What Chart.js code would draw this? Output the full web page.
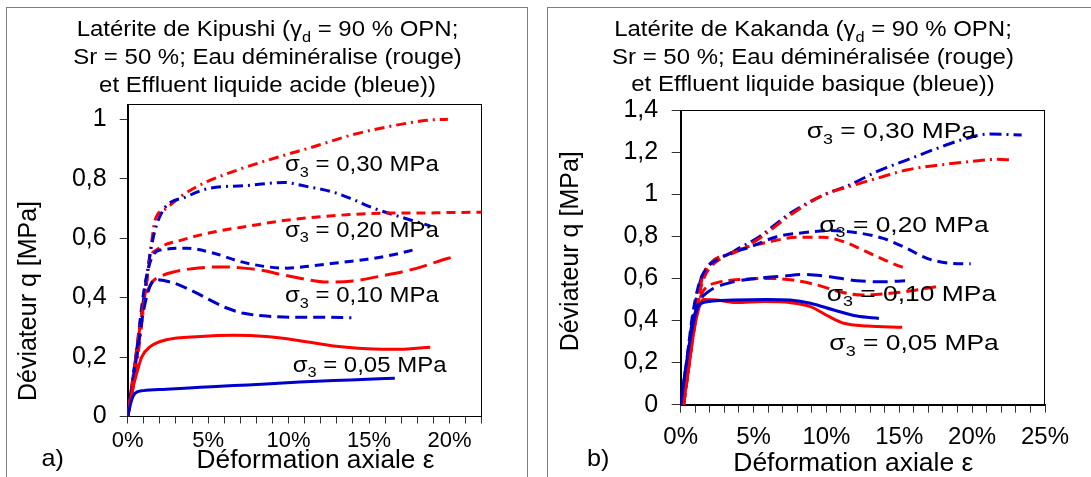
<!DOCTYPE html>
<html><head><meta charset="utf-8">
<script src="https://cdn.jsdelivr.net/npm/chart.js@4/dist/chart.umd.min.js"></script>
<style>
html,body{margin:0;padding:0;width:1091px;height:477px;overflow:hidden;background:#fff;}
.panel{position:absolute;border:1px solid #7f7f7f;box-sizing:border-box;}
canvas{position:absolute;left:0;top:0;}
</style></head><body>
<div class="panel" style="left:6px;top:7px;width:522px;height:500px;"></div>
<div class="panel" style="left:547px;top:7px;width:560px;height:500px;"></div>
<canvas id="cA" width="1091" height="477"></canvas>
<canvas id="cB" width="1091" height="477"></canvas>
<script>
// ---------- DATA (x = axial strain in %, y = deviator q in MPa) ----------
// Kipushi (a): red = eau déminéralisée, blue = effluent liquide acide
const kipRed030  = [[0,0],[0.5,0.15],[1.0,0.37],[1.5,0.59],[1.7,0.66],[2.4,0.70],[3.3,0.74],[4.2,0.77],[5.1,0.794],[7.2,0.836],[9.5,0.875],[11.6,0.908],[14.0,0.948],[16.5,0.978],[18.6,0.996],[19.9,1.0]];
const kipBlue030 = [[0,0],[0.5,0.2],[1.0,0.4],[1.5,0.58],[2.1,0.684],[3.7,0.74],[5.1,0.768],[7.2,0.776],[9.7,0.787],[11.1,0.774],[12.8,0.754],[14.0,0.73],[15.3,0.70],[16.9,0.672],[18.8,0.641]];
const kipRed020  = [[0,0],[0.5,0.17],[1.0,0.38],[1.4,0.53],[1.8,0.56],[3.4,0.594],[5.5,0.622],[7.6,0.641],[9.7,0.659],[11.8,0.671],[13.8,0.679],[15.9,0.684],[18.0,0.684],[20.0,0.686],[22.5,0.687]];
const kipBlue020 = [[0,0],[0.5,0.2],[1.0,0.42],[1.4,0.52],[2.0,0.56],[3.7,0.566],[5.3,0.55],[7.0,0.521],[8.6,0.504],[9.9,0.499],[11.5,0.507],[13.2,0.518],[14.9,0.529],[16.5,0.544],[17.8,0.561]];
const kipRed010  = [[0,0],[0.5,0.2],[1.0,0.38],[1.5,0.45],[2.0,0.47],[3.0,0.488],[4.0,0.497],[5.0,0.502],[6.0,0.503],[7.2,0.499],[8.5,0.49],[9.5,0.478],[10.7,0.465],[12.4,0.452],[14.0,0.456],[15.9,0.474],[18.0,0.499],[19.2,0.52],[20.3,0.538]];
const kipBlue010 = [[0,0],[0.5,0.18],[1.0,0.36],[1.4,0.44],[1.7,0.46],[2.8,0.45],[4.1,0.42],[5.1,0.392],[6.2,0.364],[7.2,0.347],[8.6,0.338],[10.3,0.334],[12.0,0.334],[13.9,0.332]];
const kipRed005  = [[0,0],[0.25,0.078],[0.56,0.145],[0.87,0.20],[1.4,0.235],[2.4,0.258],[4.5,0.269],[6.6,0.273],[8.6,0.269],[10.7,0.255],[12.8,0.237],[14.9,0.228],[16.9,0.226],[18.8,0.233]];
const kipBlue005 = [[0,0],[0.25,0.056],[0.45,0.078],[0.97,0.087],[2.4,0.092],[4.5,0.098],[6.6,0.104],[8.6,0.109],[10.7,0.116],[12.8,0.121],[14.9,0.125],[16.6,0.129]];

// Kakanda (b): red = eau déminéralisée, blue = effluent liquide basique
const kakBlue030 = [[0,0],[0.4,0.2],[0.8,0.4],[1.2,0.55],[1.55,0.624],[3.6,0.727],[5.4,0.798],[7.5,0.909],[9.8,0.996],[11.6,1.044],[13.45,1.107],[15.5,1.162],[17.6,1.218],[19.6,1.265],[21.2,1.286],[23.4,1.281]];
const kakRed030  = [[0.2,0],[0.5,0.15],[0.9,0.35],[1.2,0.48],[1.55,0.62],[3.6,0.72],[5.4,0.79],[7.5,0.90],[9.8,0.996],[11.4,1.033],[13.45,1.075],[15.5,1.115],[17.8,1.139],[19.9,1.155],[21.7,1.166],[22.7,1.163]];
const kakBlue020 = [[0,0],[0.4,0.2],[0.8,0.42],[1.2,0.56],[1.6,0.63],[2.9,0.703],[4.8,0.75],[6.6,0.798],[8.4,0.817],[10.2,0.827],[12.1,0.817],[13.9,0.79],[15.5,0.743],[16.9,0.695],[18.5,0.672],[19.9,0.669]];
const kakRed020  = [[0.2,0],[0.6,0.2],[1.0,0.42],[1.4,0.56],[1.8,0.63],[2.9,0.70],[4.3,0.743],[6.1,0.774],[8.0,0.795],[9.8,0.795],[11.2,0.774],[12.5,0.735],[13.9,0.69],[15.1,0.656],[15.5,0.648]];
const kakBlue010 = [[0,0],[0.4,0.18],[0.8,0.38],[1.2,0.48],[1.9,0.537],[3.4,0.58],[5.2,0.60],[7.05,0.611],[8.4,0.619],[10.2,0.608],[12.1,0.589],[13.9,0.584],[15.4,0.589]];
const kakRed010  = [[0.2,0],[0.6,0.2],[1.0,0.4],[1.4,0.52],[1.8,0.56],[2.5,0.58],[4.3,0.596],[6.1,0.60],[7.7,0.592],[9.35,0.569],[10.9,0.537],[12.5,0.521],[14.4,0.529],[16.2,0.545],[17.6,0.561]];
const kakBlue005 = [[0,0],[0.64,0.307],[1.2,0.466],[1.8,0.489],[3.6,0.497],[5.9,0.50],[7.5,0.497],[8.9,0.482],[10.5,0.45],[12.1,0.421],[13.6,0.41]];
const kakRed005  = [[0.2,0],[0.64,0.228],[1.1,0.418],[1.55,0.50],[2.5,0.497],[3.8,0.485],[5.7,0.49],[7.5,0.485],[8.9,0.466],[10.2,0.418],[11.2,0.387],[12.8,0.374],[15.2,0.368]];

// ---------- TICKS ----------
const kipXTicks = [0,1,2,3,4,5,6,7,8,9,10,11,12,13,14,15,16,17,18,19,20,21,22];
const kipYTicks = [0,0.2,0.4,0.6,0.8,1];
const kakXTicks = [0,1,2,3,4,5,6,7,8,9,10,11,12,13,14,15,16,17,18,19,20,21,22,23,24,25];
const kakYTicks = [0,0.2,0.4,0.6,0.8,1,1.2,1.4];
const xLabelEvery = 5;

// ---------- TEXT ----------
const sigmaLevels = ['0,30','0,20','0,10','0,05'];
const kipTitle = [
  [{t:'Latérite de Kipushi (γ'},{t:'d',sub:true},{t:' = 90 % OPN;'}],
  [{t:'Sr = 50 %; Eau déminéralise (rouge)'}],
  [{t:'et Effluent liquide acide (bleue))'}]
];
const kakTitle = [
  [{t:'Latérite de Kakanda (γ'},{t:'d',sub:true},{t:' = 90 % OPN;'}],
  [{t:'Sr = 50 %; Eau déminéralisée (rouge)'}],
  [{t:'et Effluent liquide basique (bleue))'}]
];
const yTitle = 'Déviateur q [MPa]';
const xTitle = 'Déformation axiale ε';

const RED = '#ff0000', BLUE = '#0000cc';
const FAM = '"Liberation Sans", Arial, Helvetica, sans-serif';
const fontStr = s => s + 'px ' + FAM;

function drawRich(ctx, parts, x, y, size, sx, align, rot) {
  ctx.save();
  const subSize = size * 0.68;
  const widths = parts.map(p => { ctx.font = fontStr(p.sub ? subSize : size); return ctx.measureText(p.t).width; });
  const total = widths.reduce((a, b) => a + b, 0);
  ctx.translate(x, y);
  if (rot) ctx.rotate(rot);
  ctx.scale(sx, 1);
  ctx.fillStyle = '#000';
  ctx.textAlign = 'left';
  ctx.textBaseline = 'alphabetic';
  let cx = align === 'center' ? -total / 2 : 0;
  parts.forEach((p, i) => {
    ctx.font = fontStr(p.sub ? subSize : size);
    ctx.fillText(p.t, cx, p.sub ? size * 0.26 : 0);
    cx += widths[i];
  });
  ctx.restore();
}

function fmtY(v) {
  const r = Math.round(v * 10) / 10;
  return Number.isInteger(r) ? String(r) : r.toFixed(1).replace('.', ',');
}

function ds(data, color, dash) {
  return {
    data: data.map(p => ({x: p[0], y: p[1]})),
    borderColor: color, backgroundColor: color,
    borderWidth: 3, borderDash: dash, pointRadius: 0,
    showLine: true, fill: false, cubicInterpolationMode: 'monotone'
  };
}

function panel(id, p) {
  const textPlugin = {
    id: 'panelText',
    beforeDatasetsDraw(chart) {
      const {ctx, chartArea: a} = chart;
      ctx.save();
      ctx.strokeStyle = '#000'; ctx.lineWidth = 1;
      ctx.strokeRect(Math.round(a.left) + 0.5, Math.round(a.top) + 0.5, Math.round(a.right - a.left) - 1, Math.round(a.bottom - a.top));
      ctx.restore();
    },
    afterDraw(chart) {
      const ctx = chart.ctx;
      const xs = chart.scales.x, ys = chart.scales.y;
      p.title.forEach((line, i) => drawRich(ctx, line, p.titleX, p.titleY[i], 22, 1.09, 'center'));
      drawRich(ctx, [{t: xTitle}], p.xTitleX, p.xTitleY, p.axisTitleSize, p.xTitleSx, 'center');
      drawRich(ctx, [{t: yTitle}], p.yTitleX, p.yTitleY, p.axisTitleSize, 1, 'center', -Math.PI / 2);
      drawRich(ctx, [{t: p.letter}], p.letterX, p.letterY, 24, 1.05, 'left');
      p.labels.forEach((lb, i) => {
        drawRich(ctx, [{t: 'σ'}, {t: '3', sub: true}, {t: ' = ' + sigmaLevels[i] + ' MPa'}],
          xs.getPixelForValue(lb[0]), ys.getPixelForValue(lb[1]), 22, p.labelSx, 'left');
      });
    }
  };
  return new Chart(document.getElementById(id), {
    type: 'scatter',
    data: {datasets: p.datasets},
    options: {
      responsive: false, animation: false, devicePixelRatio: 1,
      layout: {padding: p.padding},
      plugins: {legend: {display: false}, tooltip: {enabled: false}, title: {display: false}},
      scales: {
        x: {
          type: 'linear', min: 0, max: p.xMax,
          afterFit: s => { s.height = p.xAxisH; },
          afterBuildTicks: s => { s.ticks = p.xTicks.map(v => ({value: v})); },
          grid: {display: true, drawOnChartArea: false, drawTicks: true, tickLength: p.xTickLen, tickColor: '#333'},
          border: {display: true, color: '#000', width: 1},
          ticks: {autoSkip: false, maxRotation: 0, color: '#000', padding: p.xTickPad,
                  font: {size: p.xTickSize, family: FAM},
                  callback: v => (v % xLabelEvery === 0 ? v + '%' : '')}
        },
        y: {
          type: 'linear', min: 0, max: p.yMax,
          afterFit: s => { s.width = p.yAxisW; },
          afterBuildTicks: s => { s.ticks = p.yTicks.map(v => ({value: v})); },
          grid: {display: true, drawOnChartArea: false, drawTicks: true, tickLength: p.yTickLen, tickColor: '#333'},
          border: {display: true, color: '#000', width: 1},
          ticks: {color: '#000', padding: p.yTickPad, font: {size: 25, family: FAM}, callback: v => fmtY(v)}
        }
      }
    },
    plugins: [textPlugin]
  });
}

panel('cA', {
  datasets: [
    ds(kipBlue005, BLUE, []), ds(kipRed005, RED, []),
    ds(kipBlue010, BLUE, [12, 6]), ds(kipRed010, RED, [18, 7]),
    ds(kipBlue020, BLUE, [9, 6]), ds(kipRed020, RED, [9, 6]),
    ds(kipBlue030, BLUE, [10, 5, 2, 5]), ds(kipRed030, RED, [10, 5, 2, 5])
  ],
  xMax: 22, yMax: 1.05, xTicks: kipXTicks, yTicks: kipYTicks,
  padding: {left: 0, top: 104.3, right: 609.3, bottom: 0},
  yAxisW: 127.7, xAxisH: 60.5,
  xTickLen: 7, xTickPad: 4, xTickSize: 22, yTickLen: 8, yTickPad: 13,
  title: kipTitle, titleX: 267.5, titleY: [36, 64, 91.5],
  axisTitleSize: 25, xTitleX: 315.5, xTitleY: 468.3, xTitleSx: 1.05,
  yTitleX: 36, yTitleY: 301,
  letter: 'a)', letterX: 41.5, letterY: 466,
  labelSx: 1.09,
  labels: [[9.78, 0.824], [9.78, 0.605], [9.78, 0.384], [10.25, 0.151]]
});

panel('cB', {
  datasets: [
    ds(kakBlue005, BLUE, []), ds(kakRed005, RED, []),
    ds(kakBlue010, BLUE, [15, 7]), ds(kakRed010, RED, [12, 6]),
    ds(kakBlue020, BLUE, [10, 6]), ds(kakRed020, RED, [10, 6]),
    ds(kakRed030, RED, [12, 5, 2, 5]), ds(kakBlue030, BLUE, [12, 5, 2, 5])
  ],
  xMax: 25, yMax: 1.4, xTicks: kakXTicks, yTicks: kakYTicks,
  padding: {left: 547, top: 110, right: 46, bottom: 0},
  yAxisW: 133.7, xAxisH: 72.3,
  xTickLen: 8, xTickPad: 10, xTickSize: 24, yTickLen: 9, yTickPad: 13.5,
  title: kakTitle, titleX: 813, titleY: [36, 63.5, 91],
  axisTitleSize: 25, xTitleX: 853.3, xTitleY: 471, xTitleSx: 1.06,
  yTitleX: 577.5, yTitleY: 251.3,
  letter: 'b)', letterX: 587, letterY: 466,
  labelSx: 1.2,
  labels: [[8.65, 1.266], [9.51, 0.822], [10.02, 0.494], [10.2, 0.26]]
});
</script></body></html>
